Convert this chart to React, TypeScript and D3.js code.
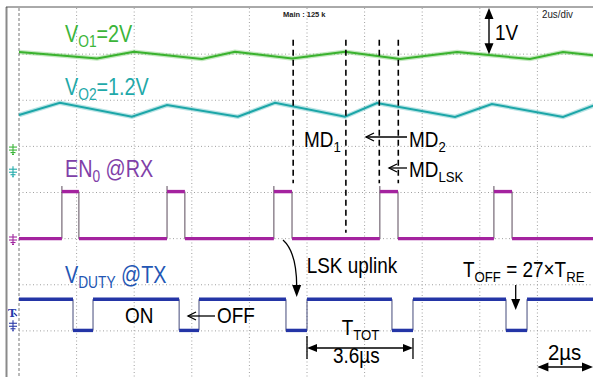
import React, { useEffect } from 'react';
import * as d3 from 'd3';

const W = 593;
const H = 377;
const FONT = '"Liberation Sans", Arial, Helvetica, sans-serif';

// axes: time in µs (2 µs/div, 10 div) and vertical divisions (8 div)
const timeDomain = [0, 20];
const divDomain = [0, 8];
const timeGrid = [2, 4, 6, 8, 10, 12, 14, 16, 18];
const divGrid = [1, 2, 3, 4, 5, 6, 7];

// V_O1 ripple (time µs, level in div)
const vo1Time = [0, 2.71, 3.99, 6.35, 7.5, 9.48, 11.32, 13.23, 15.21, 17.74, 18.89, 20];
const vo1Div = [7.046, 6.905, 7.053, 6.894, 7.053, 6.905, 7.053, 6.894, 7.046, 6.894, 7.046, 6.97];

// V_O2 ripple
const vo2Time = [0, 1.42, 3.92, 5.14, 7.6, 8.89, 11.32, 12.43, 15.14, 16.42, 18.89, 20];
const vo2Div = [5.68, 5.947, 5.643, 5.897, 5.643, 5.947, 5.643, 5.94, 5.637, 5.919, 5.637, 5.897];

// EN0 @RX pulses
const en0Rise = [1.49, 5.14, 8.85, 12.53, 16.49];
const en0Fall = [2.08, 5.76, 9.48, 13.16, 17.12];
const en0Low = 3.0;
const en0High = 4.02;
const en0Overshoot = 0.12;

// VDUTY @TX off-pulses
const dutyFall = [1.875, 5.56, 9.27, 12.95, 16.91];
const dutyRise = [2.57, 6.25, 10.0, 13.68, 17.64];
const dutyLow = 1.01;
const dutyHigh = 1.685;

// MD markers (dashed lines)
const mdTime = [9.52, 11.35, 12.51, 13.17];
const mdTop = [7.31, 7.31, 7.31, 7.31];
const mdBottom = [4.2, 3.13, 4.2, 4.2];

// channel ground markers
const gndDiv = [4.92, 4.44, 2.97, 1.1];
const gndColor = ['#3cb43a', '#22aaaa', '#a0279f', '#2a3aa8'];

const x = d3.scaleLinear().domain(timeDomain).range([19, 595]);
const y = d3.scaleLinear().domain(divDomain).range([377, 8]);

const line = d3.line<[number, number]>().x(d => x(d[0])).y(d => y(d[1]));

type Part = { t: string; sub?: boolean };

function Lbl({ px, py, parts, size = 21.5, sub = 15, sx = 0.88, fill = '#000', dy = 5 }:
  { px: number; py: number; parts: Part[]; size?: number; sub?: number; sx?: number; fill?: string; dy?: number }) {
  let cur = false;
  return (
    <g transform={`translate(${px},${py}) scale(${sx},1)`}>
      <text x={0} y={0} fontSize={size} fill={fill} fontFamily={FONT}>
        {parts.map((p, i) => {
          const s = !!p.sub;
          const d = s === cur ? 0 : s ? dy : -dy;
          cur = s;
          return (
            <tspan key={i} dy={d} fontSize={s ? sub : size}>{p.t}</tspan>
          );
        })}
      </text>
    </g>
  );
}

function head(tx: number, ty: number, dirx: number, diry: number, len = 11, half = 4.5) {
  const bx = tx - dirx * len, by = ty - diry * len;
  const nx = -diry, ny = dirx;
  return `M${tx},${ty}L${bx + nx * half},${by + ny * half}L${bx - nx * half},${by - ny * half}Z`;
}
function chevron(tx: number, ty: number, dirx: number, len = 8, half = 4) {
  return `M${tx - dirx * len},${ty - half}L${tx},${ty}L${tx - dirx * len},${ty + half}`;
}

function Ground({ cy, color }: { cy: number; color: string }) {
  return (
    <g stroke={color} strokeWidth={1.1}>
      <line x1={13} x2={13} y1={cy - 6} y2={cy + 4} />
      <line x1={9} x2={17} y1={cy - 3} y2={cy - 3} />
      <line x1={9} x2={17} y1={cy} y2={cy} />
      <line x1={10.5} x2={15.5} y1={cy + 2.5} y2={cy + 2.5} />
      <line x1={12} x2={14} y1={cy + 4.5} y2={cy + 4.5} />
    </g>
  );
}

export default function App() {
  useEffect(() => {
    document.body.style.margin = '0';
  }, []);

  const vo1: [number, number][] = vo1Time.map((t, i) => [t, vo1Div[i]]);
  const vo2: [number, number][] = vo2Time.map((t, i) => [t, vo2Div[i]]);

  const enLowSeg: [number, number][] = [];
  let prev = timeDomain[0];
  en0Rise.forEach((r, i) => { enLowSeg.push([prev, r]); prev = en0Fall[i]; });
  enLowSeg.push([prev, timeDomain[1]]);
  const enHighSeg: [number, number][] = en0Rise.map((r, i) => [r, en0Fall[i]]);

  const dHighSeg: [number, number][] = [];
  prev = timeDomain[0];
  dutyFall.forEach((f, i) => { dHighSeg.push([prev, f]); prev = dutyRise[i]; });
  dHighSeg.push([prev, timeDomain[1]]);
  const dLowSeg: [number, number][] = dutyFall.map((f, i) => [f, dutyRise[i]]);

  const purple = '#a4239f';
  const blue = '#2435a6';
  const green = '#3ab22e';
  const teal = '#1ca6a8';

  const tA = x(dutyRise[2]);
  const tB = x(dutyRise[3]);

  return (
    <svg width={W} height={H} viewBox={`0 0 ${W} ${H}`} style={{ position: 'absolute', left: 0, top: 0, background: '#fff' }}>
      <rect x={0} y={0} width={W} height={H} fill="#fff" />
      {/* frame */}
      <line x1={6.5} x2={6.5} y1={7} y2={H} stroke="#8a8a8a" strokeWidth={2} />
      <line x1={6} x2={W} y1={7} y2={7} stroke="#555" strokeWidth={1} />
      {/* grid */}
      <g stroke="#a0a0a0" strokeWidth={1} strokeDasharray="1,2.5">
        {timeGrid.map(t => <line key={'v' + t} x1={x(t)} x2={x(t)} y1={8} y2={H} />)}
        {divGrid.map(d => <line key={'h' + d} x1={19} x2={W} y1={y(d)} y2={y(d)} />)}
      </g>
      <line x1={x(0)} x2={x(0)} y1={8} y2={H} stroke="#777" strokeWidth={1} strokeDasharray="3,2" />

      {/* ground markers */}
      {gndDiv.map((g, i) => <Ground key={i} cy={y(g)} color={gndColor[i]} />)}
      <text x={8} y={317} fontSize={11} fontFamily="DejaVu Serif, serif" fontWeight="bold" fill="#2a3aa8">T</text>
      <line x1={14} x2={17} y1={313} y2={316} stroke="#2a3aa8" strokeWidth={1.2} />

      {/* analog traces */}
      <path d={line(vo1) || ''} fill="none" stroke={green} strokeWidth={4.5} strokeOpacity={0.3} />
      <path d={line(vo1) || ''} fill="none" stroke={green} strokeWidth={2} />
      <path d={line(vo2) || ''} fill="none" stroke={teal} strokeWidth={4.5} strokeOpacity={0.3} />
      <path d={line(vo2) || ''} fill="none" stroke={teal} strokeWidth={2} />

      {/* EN0 trace */}
      <g stroke="#5a4a5a" strokeWidth={1}>
        {en0Rise.map((r, i) => <line key={'r' + i} x1={x(r)} x2={x(r)} y1={y(en0Low)} y2={y(en0High + en0Overshoot)} />)}
        {en0Fall.map((f, i) => <line key={'f' + i} x1={x(f)} x2={x(f)} y1={y(en0High)} y2={y(en0Low)} />)}
      </g>
      <g stroke={purple} strokeWidth={3.4}>
        {enLowSeg.map((s, i) => <line key={'l' + i} x1={x(s[0])} x2={x(s[1])} y1={y(en0Low)} y2={y(en0Low)} />)}
        {enHighSeg.map((s, i) => <line key={'h' + i} x1={x(s[0])} x2={x(s[1])} y1={y(en0High)} y2={y(en0High)} />)}
      </g>

      {/* VDUTY trace */}
      <g stroke="#444a7a" strokeWidth={1}>
        {dutyFall.map((f, i) => <line key={'f' + i} x1={x(f)} x2={x(f)} y1={y(dutyHigh)} y2={y(dutyLow)} />)}
        {dutyRise.map((r, i) => <line key={'r' + i} x1={x(r)} x2={x(r)} y1={y(dutyLow)} y2={y(dutyHigh)} />)}
      </g>
      <g stroke={blue} strokeWidth={3.4}>
        {dHighSeg.map((s, i) => <line key={'h' + i} x1={x(s[0])} x2={x(s[1])} y1={y(dutyHigh)} y2={y(dutyHigh)} />)}
        {dLowSeg.map((s, i) => <line key={'l' + i} x1={x(s[0])} x2={x(s[1])} y1={y(dutyLow)} y2={y(dutyLow)} />)}
      </g>

      {/* MD dashed markers */}
      <g stroke="#000" strokeWidth={1.6} strokeDasharray="6,4">
        {mdTime.map((t, i) => <line key={i} x1={x(t)} x2={x(t)} y1={y(mdTop[i])} y2={y(mdBottom[i])} />)}
      </g>

      {/* top texts */}
      <text x={283} y={16.5} fontSize={7.5} fontWeight="bold" fontFamily={FONT} fill="#222">Main : 125 k</text>
      <Lbl px={542} py={18} parts={[{ t: '2us/div' }]} size={11.5} sx={0.85} fill="#222" />

      {/* 1V arrow */}
      <g fill="#000" stroke="#000">
        <line x1={489} x2={489} y1={y(8) + 8} y2={y(7) - 8} strokeWidth={1.4} />
        <path d={head(489, y(8), 0, -1)} stroke="none" />
        <path d={head(489, y(7), 0, 1)} stroke="none" />
      </g>
      <Lbl px={495} py={40} parts={[{ t: '1V' }]} />

      {/* channel labels */}
      <Lbl px={65} py={41.7} size={23} sub={16} sx={0.86} fill="#3cb53a" parts={[{ t: 'V' }, { t: 'O1', sub: true }, { t: '=2V' }]} />
      <Lbl px={65} py={95} size={23} sub={16} sx={0.86} fill="#1fa9a9" parts={[{ t: 'V' }, { t: 'O2', sub: true }, { t: '=1.2V' }]} />
      <Lbl px={65} py={177.3} size={23} sub={16} sx={0.86} fill="#8040a8" parts={[{ t: 'EN' }, { t: '0', sub: true }, { t: ' @RX' }]} />
      <Lbl px={65} py={283.3} size={23} sub={16} sx={0.86} fill="#2356b4" parts={[{ t: 'V' }, { t: 'DUTY', sub: true }, { t: ' @TX' }]} />

      {/* MD labels */}
      <Lbl px={304} py={147} parts={[{ t: 'MD' }, { t: '1', sub: true }]} />
      <Lbl px={409} py={147} parts={[{ t: 'MD' }, { t: '2', sub: true }]} />
      <Lbl px={409} py={176.7} parts={[{ t: 'MD' }, { t: 'LSK', sub: true }]} />
      <g stroke="#000" strokeWidth={1.3} fill="none">
        <line x1={366} x2={407} y1={137} y2={137} />
        <path d={chevron(366, 137, -1)} />
        <line x1={389} x2={407} y1={168} y2={168} />
        <path d={chevron(389, 168, -1)} />
        <line x1={188} x2={215} y1={316} y2={316} />
        <path d={chevron(188, 316, -1)} />
      </g>

      {/* ON / OFF */}
      <Lbl px={125} py={323.3} parts={[{ t: 'ON' }]} />
      <Lbl px={217} py={323.3} parts={[{ t: 'OFF' }]} />

      {/* LSK uplink curved arrow */}
      <Lbl px={306.7} py={273.3} parts={[{ t: 'LSK uplink' }]} />
      <path d="M283,240 Q296.5,252 296.7,286" fill="none" stroke="#000" strokeWidth={1.3} />
      <path d={head(296.7, 297, 0, 1, 12, 4.5)} fill="#000" />

      {/* T_OFF */}
      <Lbl px={463} py={276.7} parts={[{ t: 'T' }, { t: 'OFF', sub: true }, { t: ' = 27×T' }, { t: 'RE', sub: true }]} />
      <line x1={515.7} x2={515.7} y1={285} y2={301} stroke="#000" strokeWidth={1.3} />
      <path d={head(515.7, 310, 0, 1, 11, 4.5)} fill="#000" />

      {/* T_TOT */}
      <Lbl px={341.7} py={335} parts={[{ t: 'T' }, { t: 'TOT', sub: true }]} />
      <g stroke="#000" strokeWidth={1.3}>
        <line x1={tA} x2={tA} y1={336} y2={359} />
        <line x1={tB} x2={tB} y1={338} y2={359} />
        <line x1={tA + 6} x2={tB - 6} y1={348} y2={348} />
      </g>
      <path d={head(tA, 348, -1, 0, 10, 4)} fill="#000" />
      <path d={head(tB, 348, 1, 0, 10, 4)} fill="#000" />
      <Lbl px={333} py={362.7} parts={[{ t: '3.6µs' }]} />

      {/* 2µs scale */}
      <Lbl px={548} py={360} parts={[{ t: '2µs' }]} sx={0.95} />
      <line x1={x(18) + 6} x2={W - 6} y1={367} y2={367} stroke="#000" strokeWidth={1.3} />
      <path d={head(x(18), 367, -1, 0, 11, 4.5)} fill="#000" />
      <path d={head(W, 367, 1, 0, 11, 4.5)} fill="#000" />
    </svg>
  );
}
